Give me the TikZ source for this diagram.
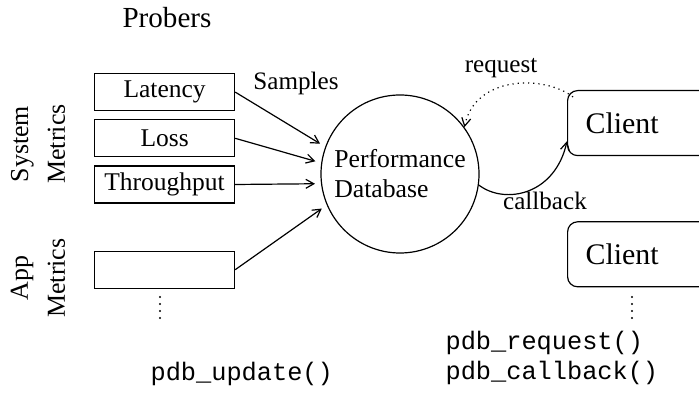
\documentclass[tikz,border=0pt]{standalone}
\usepackage{fontspec}
\setmainfont{Liberation Serif}
\setmonofont{Liberation Mono}
\usepackage{tikz}
\usetikzlibrary{shapes, calc, positioning, arrows.meta}

\begin{document}
\begin{tikzpicture}[x=0.5bp, y=-0.5bp, node distance = 4bp, line width=0.6bp,
  >={Straight Barb[length=4bp, width=4.5bp]}]
 \tikzstyle{P} = [draw, rectangle, minimum height=18.5bp, minimum width=70bp, inner sep=0pt, font=\fontsize{12.8}{15}\selectfont]
 \tikzstyle{C} = [draw, rectangle, rounded corners=5bp, minimum height=32.5bp, text width=62bp, inner xsep=9bp, inner ysep=0pt, align=left, font=\fontsize{15}{18}\selectfont]
 \tikzstyle{l} = [font=\fontsize{12.6}{15}\selectfont, anchor=base, inner sep=0pt]
 \tikzstyle{g} = [font=\fontsize{13}{18.5}\selectfont, rotate=90, align=center, inner sep=0pt]
 \tikzstyle{f} = [font=\ttfamily\fontsize{12.7}{15}\selectfont, anchor=base west, inner sep=0pt]

 \clip (0,0) rectangle (699,394);

 % probers
 \node [l, font=\fontsize{14.6}{17}\selectfont] (prob) at (167,28) {Probers};
 \node [P, anchor=north west] (lat) at (94,73) {Latency};
 \node [P, below = of lat] (loss) {Loss};
 \node [P, below = of loss] (thr) {Throughput};
 \node [P, below = 23.5bp of thr] (app) {};
 \node [g] (sys) at (38,144) {System\\Metrics};
 \node [g] (appm) at (38,278) {App\\Metrics};

 % database
 \node [draw, circle, minimum size=79bp, inner sep=0pt, align=left, font=\fontsize{12.9}{15}\selectfont] (db) at (400,174) {Performance\\Database};
 \node [l] (samp) at (296,90) {Samples};

 \draw [->, shorten >=3bp] (lat.east) -- (db.160);
 \draw [->, shorten >=3bp] (loss.east) -- (db.172);
 \draw [->, shorten >=3bp] (thr.east) -- (db.187);
 \draw [->, shorten >=3bp] (app.east) -- (db.203);

 % clients
 \node [C, anchor=north west] (c1) at (567,90) {Client};
 \node [C, below = 32.5bp of c1] (c2) {Client};

 % more probers / clients
 \foreach \y in {297,304,311,318} {
   \fill (160,\y) circle (0.6bp);
   \fill (632,\y) circle (0.6bp);
 }

 \coordinate (rq) at ($(c1.north west)+(6,7)$);
 \coordinate (cb) at ($(c1.south west)+(0,-15)$);
 \draw [->, dotted] (rq) .. controls (545,75) and (475,75) .. (db.36);
 \draw [->] (db.-8) .. controls (505,205) and (555,195) .. (cb);
 \node [l] (req) at (501,73) {request};
 \node [l] (call) at (545,210) {callback};

 % api
 \node [f] (upd) at (150,381) {pdb\_update()};
 \node [f] (preq) at (445,350) {pdb\_request()};
 \node [f] (pcb) at (445,380) {pdb\_callback()};
\end{tikzpicture}
\end{document}
